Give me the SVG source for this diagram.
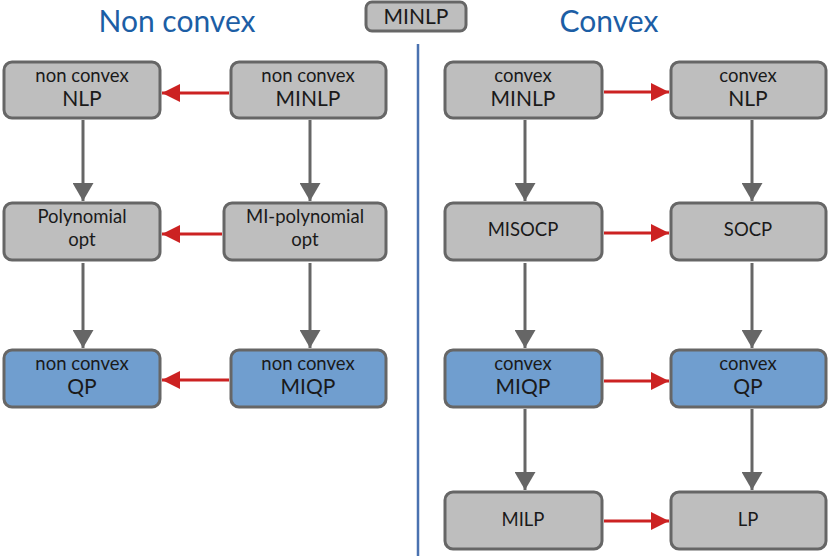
<svg xmlns="http://www.w3.org/2000/svg" width="828" height="556" viewBox="0 0 828 556">
<style>
.box{fill:#bebebe;stroke:#666;stroke-width:3}
.blue{fill:#709ecf;stroke:#666;stroke-width:3}
.t{font-family:"Lato","Liberation Sans",sans-serif;fill:#1a1a1a;text-anchor:middle}
.s{font-size:18.5px}
.b{font-size:21px}
.title{font-family:"Lato","Liberation Sans",sans-serif;font-size:30px;fill:#1c5ea5;text-anchor:middle}
.g{stroke:#666;stroke-width:3;fill:none;marker-end:url(#ag)}
.r{stroke:#cc2222;stroke-width:3;fill:none;marker-end:url(#ar)}
</style>
<defs>
<marker id="ag" markerWidth="7" markerHeight="7" refX="6" refY="3.5" orient="auto" markerUnits="strokeWidth"><path d="M0,0 L6,3.5 L0,7 Z" fill="#666"/></marker>
<marker id="ar" markerWidth="6" markerHeight="6" refX="6" refY="3" orient="auto" markerUnits="strokeWidth"><path d="M0,0 L6,3 L0,6 Z" fill="#cc2222"/></marker>
</defs>
<rect width="828" height="556" fill="#fff"/>
<text class="title" x="177" y="32">Non convex</text>
<text class="title" x="609" y="32">Convex</text>
<g id="minlp"><rect class="box" x="366" y="2" width="100" height="29" rx="6"/><text class="t b" x="416" y="24">MINLP</text></g>
<line x1="418" y1="44" x2="418" y2="556" stroke="#4a72b0" stroke-width="2.5"/>
<g id="nc-nlp"><rect class="box" x="4" y="62" width="156" height="56" rx="8"/><text class="t s" x="82" y="82">non convex</text><text class="t b" x="82" y="106">NLP</text></g>
<g id="nc-minlp"><rect class="box" x="231" y="62" width="155" height="56" rx="8"/><text class="t s" x="308" y="82">non convex</text><text class="t b" x="308" y="106">MINLP</text></g>
<g id="poly"><rect class="box" x="4" y="203" width="156" height="57" rx="8"/><text class="t s" x="82" y="223">Polynomial</text><text class="t s" x="82" y="246">opt</text></g>
<g id="mipoly"><rect class="box" x="224" y="203" width="162" height="57" rx="8"/><text class="t s" x="305" y="223">MI-polynomial</text><text class="t s" x="305" y="246">opt</text></g>
<g id="nc-qp"><rect class="blue" x="4" y="350" width="156" height="57" rx="8"/><text class="t s" x="82" y="370">non convex</text><text class="t b" x="82" y="394">QP</text></g>
<g id="nc-miqp"><rect class="blue" x="231" y="350" width="155" height="57" rx="8"/><text class="t s" x="308" y="370">non convex</text><text class="t b" x="308" y="394">MIQP</text></g>
<g id="c-minlp"><rect class="box" x="445" y="62" width="157" height="56" rx="8"/><text class="t s" x="523" y="82">convex</text><text class="t b" x="523" y="106">MINLP</text></g>
<g id="c-nlp"><rect class="box" x="671" y="62" width="155" height="56" rx="8"/><text class="t s" x="748" y="82">convex</text><text class="t b" x="748" y="106">NLP</text></g>
<g id="misocp"><rect class="box" x="445" y="203" width="157" height="57" rx="8"/><text class="t s" x="523" y="236">MISOCP</text></g>
<g id="socp"><rect class="box" x="671" y="203" width="155" height="57" rx="8"/><text class="t s" x="748" y="236">SOCP</text></g>
<g id="c-miqp"><rect class="blue" x="445" y="350" width="157" height="57" rx="8"/><text class="t s" x="523" y="370">convex</text><text class="t b" x="523" y="394">MIQP</text></g>
<g id="c-qp"><rect class="blue" x="671" y="350" width="155" height="57" rx="8"/><text class="t s" x="748" y="370">convex</text><text class="t b" x="748" y="394">QP</text></g>
<g id="milp"><rect class="box" x="445" y="492" width="157" height="57" rx="8"/><text class="t s" x="523" y="526">MILP</text></g>
<g id="lp"><rect class="box" x="671" y="492" width="155" height="57" rx="8"/><text class="t s" x="748" y="526">LP</text></g>
<g id="connectors">
<line class="r" x1="229" y1="93" x2="162" y2="93"/>
<line class="r" x1="222" y1="234" x2="162" y2="234"/>
<line class="r" x1="229" y1="380" x2="162" y2="380"/>
<line class="r" x1="604" y1="92" x2="669" y2="92"/>
<line class="r" x1="604" y1="233" x2="669" y2="233"/>
<line class="r" x1="604" y1="381" x2="669" y2="381"/>
<line class="r" x1="604" y1="521" x2="669" y2="521"/>
<line class="g" x1="83" y1="120" x2="83" y2="201"/>
<line class="g" x1="310" y1="120" x2="310" y2="201"/>
<line class="g" x1="83" y1="263" x2="83" y2="348"/>
<line class="g" x1="310" y1="263" x2="310" y2="348"/>
<line class="g" x1="525" y1="120" x2="525" y2="201"/>
<line class="g" x1="752" y1="120" x2="752" y2="201"/>
<line class="g" x1="525" y1="263" x2="525" y2="348"/>
<line class="g" x1="752" y1="263" x2="752" y2="348"/>
<line class="g" x1="525" y1="409" x2="525" y2="490"/>
<line class="g" x1="752" y1="409" x2="752" y2="490"/>
</g>
</svg>
